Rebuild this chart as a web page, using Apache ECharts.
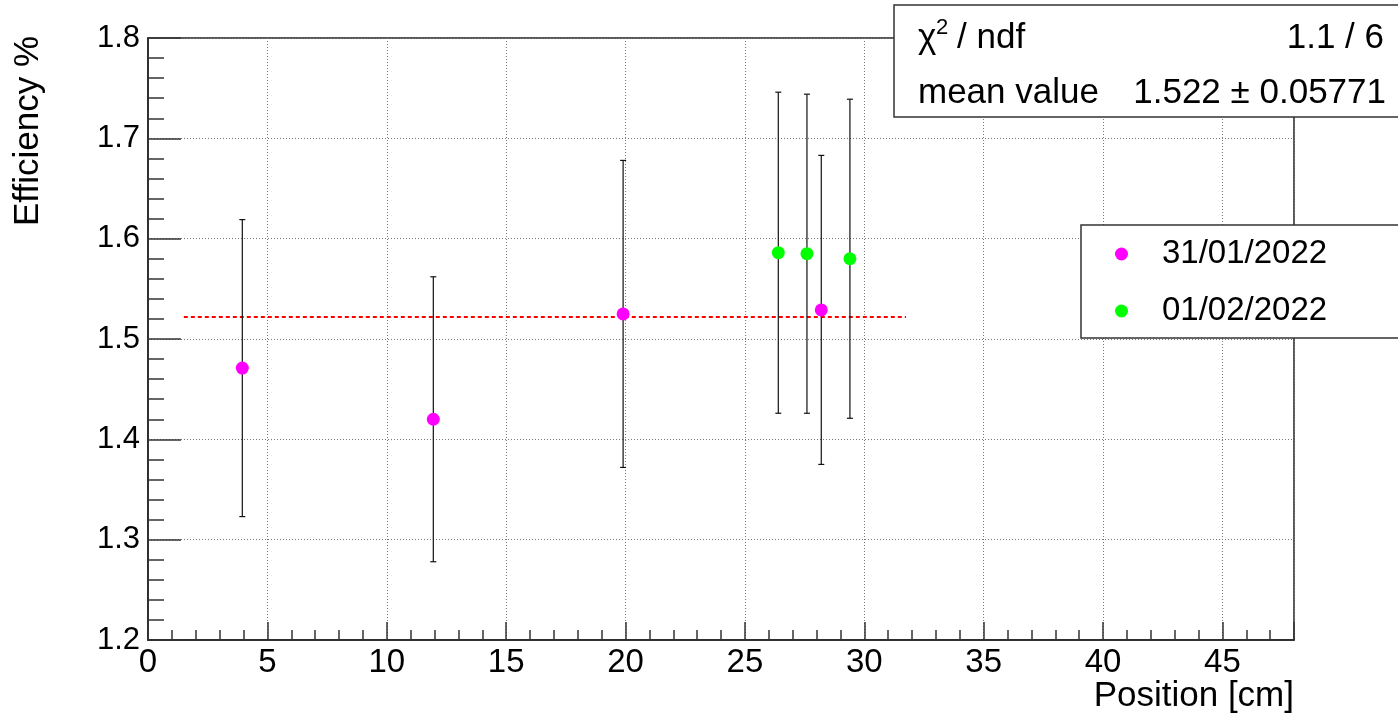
<!DOCTYPE html>
<html>
<head>
<meta charset="utf-8">
<script src="https://cdn.jsdelivr.net/npm/echarts@6/dist/echarts.min.js"></script>
<style>html,body{margin:0;padding:0;background:#fff}#c{width:1398px;height:714px}</style>
</head>
<body>
<div id="c"></div>
<script>
// ---- data ----
const seriesNames = ['31/01/2022', '01/02/2022'];
const magentaX = [3.95, 11.95, 19.9, 28.2];
const magentaY = [1.471, 1.420, 1.525, 1.529];
const magentaErr = [0.148, 0.142, 0.153, 0.154];
const greenX = [26.4, 27.6, 29.4];
const greenY = [1.586, 1.585, 1.580];
const greenErr = [0.160, 0.159, 0.159];
const fitRange = [1.5, 31.75];
const fitMean = 1.522;
const statsLabels = ['/ ndf', 'mean value'];
const statsValues = ['1.1 / 6', '1.522 \u00b1 0.05771'];
const xTitle = 'Position [cm]';
const yTitle = 'Efficiency %';

const FONT = '"Liberation Sans", Arial, sans-serif';

function rows(xs, ys, es) { return xs.map((x, i) => es ? [x, ys[i], es[i]] : [x, ys[i]]); }

function errRender(params, api) {
  const x = api.value(0), y = api.value(1), e = api.value(2);
  const t = api.coord([x, y + e]);
  const b = api.coord([x, y - e]);
  const hw = 3;
  const st = { stroke: '#111', lineWidth: 1.2 };
  return {
    type: 'group',
    children: [
      { type: 'line', shape: { x1: t[0], y1: t[1], x2: b[0], y2: b[1] }, style: st },
      { type: 'line', shape: { x1: t[0] - hw, y1: t[1], x2: t[0] + hw, y2: t[1] }, style: st },
      { type: 'line', shape: { x1: b[0] - hw, y1: b[1], x2: b[0] + hw, y2: b[1] }, style: st }
    ]
  };
}

const chart = echarts.init(document.getElementById('c'), null, { renderer: 'canvas' });
chart.setOption({
  backgroundColor: '#fff',
  animation: false,
  textStyle: { fontFamily: FONT },
  grid: { left: 148, right: 104, top: 38, bottom: 74, show: true, borderColor: '#222', borderWidth: 1.5, backgroundColor: 'transparent' },
  xAxis: {
    type: 'value', min: 0, max: 48, interval: 5,
    axisLine: { show: true, onZero: false, lineStyle: { color: '#222', width: 1.5 } },
    axisTick: { show: true, inside: true, length: 18, lineStyle: { color: '#333', width: 1.5 } },
    minorTick: { show: true, splitNumber: 5, length: 10, lineStyle: { color: '#333', width: 1.5 } },
    splitLine: { show: true, lineStyle: { color: '#777', type: [1, 2], width: 1 } },
    axisLabel: { fontSize: 33, color: '#000', margin: 6, fontFamily: FONT, showMaxLabel: false }
  },
  yAxis: {
    type: 'value', min: 1.2, max: 1.8, interval: 0.1,
    axisLine: { show: true, onZero: false, lineStyle: { color: '#222', width: 1.5 } },
    axisTick: { show: true, inside: true, length: 33, lineStyle: { color: '#333', width: 1.5 } },
    minorTick: { show: true, splitNumber: 5, length: 16, lineStyle: { color: '#333', width: 1.5 } },
    splitLine: { show: true, lineStyle: { color: '#777', type: [1, 2], width: 1 } },
    axisLabel: { fontSize: 31, color: '#000', margin: 8, fontFamily: FONT, formatter: v => v.toFixed(1) }
  },
  legend: {
    data: seriesNames,
    orient: 'vertical',
    left: 1081, top: 225,
    padding: [9, 120, 7, 34],
    itemWidth: 13, itemHeight: 13, itemGap: 17,
    icon: 'circle',
    backgroundColor: '#fff',
    borderColor: '#333', borderWidth: 1.5, borderRadius: 0,
    textStyle: { fontSize: 33, color: '#000', fontFamily: FONT, lineHeight: 40, padding: [0, 0, 0, 29] },
    z: 20
  },
  series: [
    {
      name: 'fit', type: 'line', data: [[fitRange[0], fitMean], [fitRange[1], fitMean]],
      showSymbol: false, symbol: 'none', silent: true,
      lineStyle: { color: '#ff0000', width: 2, type: [4, 3] }, z: 3
    },
    {
      name: 'err1', type: 'custom', renderItem: errRender, data: rows(magentaX, magentaY, magentaErr),
      encode: { x: 0, y: 1 }, z: 4, silent: true
    },
    {
      name: 'err2', type: 'custom', renderItem: errRender, data: rows(greenX, greenY, greenErr),
      encode: { x: 0, y: 1 }, z: 4, silent: true
    },
    {
      name: seriesNames[0], type: 'scatter', data: rows(magentaX, magentaY),
      symbol: 'circle', symbolSize: 13, itemStyle: { color: '#ff00ff', opacity: 1 }, z: 5
    },
    {
      name: seriesNames[1], type: 'scatter', data: rows(greenX, greenY),
      symbol: 'circle', symbolSize: 13, itemStyle: { color: '#00ff00', opacity: 1 }, z: 5
    }
  ],
  graphic: [
    { type: 'rect', z: 30, shape: { x: 894, y: 5, width: 600, height: 112 }, style: { fill: '#fff', stroke: '#333', lineWidth: 1.5 } },
    { type: 'text', z: 31, x: 918, y: 38, style: { text: '\u03c7', fontSize: 35, fontFamily: FONT, fill: '#000', align: 'left', verticalAlign: 'middle', textAlign: 'left', textVerticalAlign: 'middle' } },
    { type: 'text', z: 31, x: 936, y: 28, style: { text: '2', fontSize: 22, fontFamily: FONT, fill: '#000', align: 'left', verticalAlign: 'middle', textAlign: 'left', textVerticalAlign: 'middle' } },
    { type: 'text', z: 31, x: 957, y: 38, style: { text: statsLabels[0], fontSize: 35, fontFamily: FONT, fill: '#000', align: 'left', verticalAlign: 'middle', textAlign: 'left', textVerticalAlign: 'middle' } },
    { type: 'text', z: 31, x: 1384, y: 38, style: { text: statsValues[0], fontSize: 35, fontFamily: FONT, fill: '#000', align: 'right', verticalAlign: 'middle', textAlign: 'right', textVerticalAlign: 'middle' } },
    { type: 'text', z: 31, x: 918, y: 93, style: { text: statsLabels[1], fontSize: 35, fontFamily: FONT, fill: '#000', align: 'left', verticalAlign: 'middle', textAlign: 'left', textVerticalAlign: 'middle' } },
    { type: 'text', z: 31, x: 1386, y: 93, style: { text: statsValues[1], fontSize: 35, fontFamily: FONT, fill: '#000', align: 'right', verticalAlign: 'middle', textAlign: 'right', textVerticalAlign: 'middle' } },
    { type: 'text', z: 31, x: 1294, y: 696, style: { text: xTitle, fontSize: 35, fontFamily: FONT, fill: '#000', align: 'right', verticalAlign: 'middle', textAlign: 'right', textVerticalAlign: 'middle' } },
    { type: 'text', z: 31, x: 28, y: 36, rotation: Math.PI / 2, style: { text: yTitle, fontSize: 35, fontFamily: FONT, fill: '#000', align: 'right', verticalAlign: 'middle', textAlign: 'right', textVerticalAlign: 'middle' } }
  ]
});
</script>
</body>
</html>
